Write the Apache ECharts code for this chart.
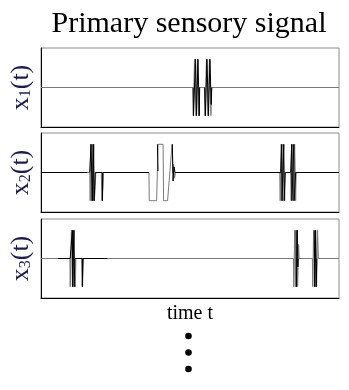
<!DOCTYPE html>
<html>
<head>
<meta charset="utf-8">
<script src="https://cdn.jsdelivr.net/npm/echarts@6/dist/echarts.min.js"></script>
<style>
html,body{margin:0;padding:0;background:#fff;}
#chart{width:349px;height:390px;}
</style>
</head>
<body>
<div id="chart"></div>
<script>
// time runs 0..299 (arbitrary units), amplitude normalised to +/-1
var GAP = ['-', '-'];
var titleText = 'Primary sensory signal';
var xAxisLabel = 'time t';
var channelIndex = ['1', '2', '3'];

// Channel 1
var x1Gray = [[0,0],[152.5,0],[152.8,-1],[154,1],[155.5,-1],[157,1],[158,-1],[159,0],[164,0],[164.5,-1],[166,1],[167.5,-1],[169,1],[170.5,-1],[171,-0.4],[171.5,0],[299,0]];
var x1Black = [[152.6,0],[153,-1],[155,1],[156,-1],[157.5,1],[158.8,-1],[159.2,0], GAP, [164.2,0],[165,-1],[166.5,1],[168,-1],[169.5,1],[170.8,-0.6],[171.2,0]];

// Channel 2
var x2Gray = [[46.7,0],[49,0],[49.3,-1],[50,1],[50.5,-1],[51.5,1],[52,-1],[53,1],[53.5,-1],[54.5,-0.5],[55,0], GAP,
  [60.5,0],[61,-1],[62.2,-0.5],[62.7,0], GAP,
  [108.3,0],[108.6,-1],[116,-1],[117.5,1],[122.5,1],[123,-1],[127,-1],[131.5,1],[132.3,0],[133,0.3],[134,-0.2],[135,0], GAP,
  [239.5,0],[240,-1],[241,1],[242,-1],[243,1],[244.5,-1],[245,0], GAP,
  [250.5,0],[251,-1],[252,1],[253.5,-1],[254.5,1],[255.5,-1],[256,0]];
var x2Black = [[0,0],[46.7,0], GAP, [48.8,0],[50.2,1],[51.5,-1],[52.5,1],[53.2,-1],[54.5,0],[61.5,0],[61.7,-1],[62,0],[108.3,0], GAP,
  [116.8,1],[117.4,0.05], GAP,
  [131.8,1],[132.5,-0.3],[133.5,0.2],[134.5,0],[240.5,0],[241.5,1],[241.8,-1],[243.6,1],[244,-1],[245,0],[250.5,0],[251.5,1],[251.8,-1],[253.6,1],[254,-1],[255.5,0],[299,0]];

// Channel 3
var x3Gray = [[0,0],[16.7,0], GAP,
  [29,0],[29.3,-1],[30.5,1],[31.5,-1],[33,1],[34.5,-1],[35,0], GAP,
  [40.7,0],[41.2,-1],[42.2,-0.3],[42.7,0], GAP,
  [66.7,0],[253.3,0],[253.7,-1],[254.5,1],[255.5,-1],[256.5,1],[257.5,-1],[258.5,0.5],[259,0],[272.3,0],[272.7,-1],[273.5,1],[274.5,-1],[275.5,1],[276.5,-1],[277.5,1],[278.3,0],[299,0]];
var x3Black = [[16.7,0],[29.3,0],[31.5,1],[31.8,-1],[33,1],[33.3,-1],[34,0],[41.5,0],[41.7,-1],[42,0],[66.7,0], GAP,
  [255.8,1],[256.3,-1],[257.2,1],[257.7,-0.3],[258,0], GAP,
  [274.2,1],[274.7,-1],[275.5,1],[276.2,-1],[276.7,0]];

var grayTraces = [x1Gray, x2Gray, x3Gray];
var blackTraces = [x1Black, x2Black, x3Black];

var chart = echarts.init(document.getElementById('chart'), null, {renderer: 'canvas'});
var serif = '"Liberation Serif", "Times New Roman", serif';
var tops = [48, 133, 219];
var grids = [], xAxes = [], yAxes = [], series = [];
for (var i = 0; i < 3; i++) {
  grids.push({left: 40, width: 299, top: tops[i], height: 79, show: true, borderColor: '#8c8c8c', borderWidth: 1, backgroundColor: 'transparent'});
  xAxes.push({
    type: 'value', gridIndex: i, min: 0, max: 299,
    axisLine: {show: true, onZero: false, lineStyle: {color: '#000', width: 1}},
    axisTick: {show: false}, axisLabel: {show: false}, splitLine: {show: false},
    name: i === 2 ? xAxisLabel : '', nameLocation: 'middle', nameGap: 6,
    nameTextStyle: {fontFamily: serif, fontSize: 20, color: '#000', verticalAlign: 'top'}
  });
  yAxes.push({
    type: 'value', gridIndex: i, min: -1.4, max: 1.4,
    axisLine: {show: true, onZero: false, lineStyle: {color: '#000', width: 1}},
    axisTick: {show: false}, axisLabel: {show: false}, splitLine: {show: false},
    name: '{a|x}{s|' + channelIndex[i] + '}{a|(t)}', nameLocation: 'middle', nameRotate: 90, nameGap: 7,
    nameTextStyle: {
      color: '#1b1b55',
      rich: {
        a: {fontFamily: serif, fontSize: 26, lineHeight: 32, color: '#1b1b55', verticalAlign: 'bottom'},
        s: {fontFamily: serif, fontSize: 16, lineHeight: 16, color: '#1b1b55', verticalAlign: 'bottom'}
      }
    }
  });
  series.push({
    type: 'line', xAxisIndex: i, yAxisIndex: i, data: grayTraces[i],
    showSymbol: false, symbol: 'none', connectNulls: false, silent: true,
    lineStyle: {color: '#7a7a7a', width: 1}, z: 2
  });
  series.push({
    type: 'line', xAxisIndex: i, yAxisIndex: i, data: blackTraces[i],
    showSymbol: false, symbol: 'none', connectNulls: false, silent: true,
    lineStyle: {color: '#000', width: 1}, z: 3
  });
}

chart.setOption({
  animation: false,
  backgroundColor: '#fff',
  grid: grids, xAxis: xAxes, yAxis: yAxes, series: series,
  graphic: [
    {type: 'text', x: 189, y: 24, style: {text: titleText, font: '30px ' + serif, fill: '#000', textAlign: 'center', textVerticalAlign: 'middle'}},
    {type: 'circle', shape: {cx: 188.5, cy: 336, r: 3.3}, style: {fill: '#000'}},
    {type: 'circle', shape: {cx: 188.5, cy: 352.5, r: 3.3}, style: {fill: '#000'}},
    {type: 'circle', shape: {cx: 188.5, cy: 369, r: 3.3}, style: {fill: '#000'}}
  ]
});
</script>
</body>
</html>
